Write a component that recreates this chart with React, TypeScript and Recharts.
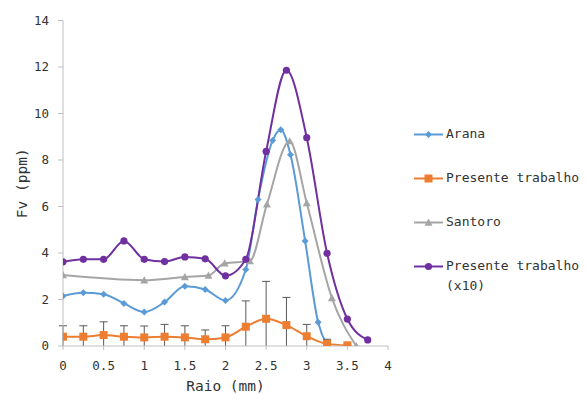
import React from 'react';
import { LineChart, Line, XAxis, YAxis, ErrorBar, Legend } from 'recharts';

// ---- data ----
const aranaX = [0, 0.25, 0.5, 0.75, 1, 1.25, 1.5, 1.75, 2, 2.25, 2.4, 2.58, 2.68, 2.8, 2.98, 3.14, 3.25];
const aranaY = [2.15, 2.29, 2.23, 1.83, 1.46, 1.89, 2.57, 2.43, 1.96, 3.29, 6.3, 8.84, 9.3, 8.23, 4.52, 1.02, 0.03];

const presenteX = [0, 0.25, 0.5, 0.75, 1, 1.25, 1.5, 1.75, 2, 2.25, 2.5, 2.75, 3, 3.25, 3.5];
const presenteY = [0.4, 0.4, 0.47, 0.4, 0.37, 0.4, 0.37, 0.29, 0.37, 0.83, 1.17, 0.9, 0.42, 0.09, 0.03];
const presenteErr = [0.47, 0.47, 0.57, 0.47, 0.49, 0.53, 0.5, 0.4, 0.5, 1.11, 1.61, 1.19, 0.51, 0.2, 0];

const santoroX = [0, 1, 1.5, 1.79, 1.99, 2.3, 2.51, 2.79, 3.0, 3.31, 3.61];
const santoroY = [3.05, 2.83, 2.97, 3.03, 3.56, 3.65, 6.1, 8.81, 6.15, 2.06, 0.0];

const presente10X = [0, 0.25, 0.5, 0.75, 1, 1.25, 1.5, 1.75, 2, 2.25, 2.5, 2.75, 3, 3.25, 3.5, 3.75];
const presente10Y = [3.62, 3.73, 3.73, 4.52, 3.73, 3.63, 3.83, 3.75, 3.02, 3.73, 8.37, 11.86, 8.96, 3.99, 1.16, 0.26];

const xTicks = [0, 0.5, 1, 1.5, 2, 2.5, 3, 3.5, 4];
const yTicks = [0, 2, 4, 6, 8, 10, 12, 14];

const seriesNames = ['Arana', 'Presente trabalho', 'Santoro', 'Presente trabalho (x10)'];
const seriesColors = ['#5B9BD5', '#ED7D31', '#A5A5A5', '#7030A0'];
const seriesShapes = ['diamond', 'square', 'triangle', 'circle'];

const aranaData = aranaX.map((x, i) => ({ x, y: aranaY[i] }));
// error bars: symmetric in the source, clipped at the axis -> lower part runs down to 0
const presenteData = presenteX.map((x, i) => ({
  x,
  y: presenteY[i],
  err: [Math.min(presenteY[i], presenteErr[i]), presenteErr[i]],
}));
const santoroData = santoroX.map((x, i) => ({ x, y: santoroY[i] }));
const presente10Data = presente10X.map((x, i) => ({ x, y: presente10Y[i] }));

const FONT = '"DejaVu Sans Mono", "Liberation Mono", monospace';
const AXIS = '#BFBFBF';
const TEXT = '#333333';

function Marker({ shape, cx, cy, color }: { shape: string; cx: number; cy: number; color: string }) {
  if (shape === 'diamond') {
    const r = 3.5;
    return <path d={`M${cx},${cy - r}L${cx + r},${cy}L${cx},${cy + r}L${cx - r},${cy}Z`} fill={color} />;
  }
  if (shape === 'square') {
    const r = 4;
    return <rect x={cx - r} y={cy - r} width={2 * r} height={2 * r} fill={color} />;
  }
  if (shape === 'triangle') {
    const r = 4;
    return <path d={`M${cx},${cy - r}L${cx + r},${cy + r * 0.8}L${cx - r},${cy + r * 0.8}Z`} fill={color} />;
  }
  return <circle cx={cx} cy={cy} r={3.6} fill={color} />;
}

const makeDot = (idx: number) => (props: any) => {
  const { cx, cy, index } = props;
  if (cx == null || cy == null) return <g key={`d-${idx}-${index}`} />;
  return (
    <g key={`d-${idx}-${index}`}>
      <Marker shape={seriesShapes[idx]} cx={cx} cy={cy} color={seriesColors[idx]} />
    </g>
  );
};

const legendTops = [124, 168, 212, 256];

const renderLegend = () => (
  <div style={{ position: 'relative', width: 587, height: 394, pointerEvents: 'none' }}>
    {seriesNames.map((name, i) => (
      <div key={name} style={{ position: 'absolute', left: 413, top: legendTops[i], width: 190 }}>
        <svg width={32} height={20} style={{ position: 'absolute', left: 0, top: 0 }}>
          <line x1={1} y1={10.5} x2={30} y2={10.5} stroke={seriesColors[i]} strokeWidth={2} />
          <Marker shape={seriesShapes[i]} cx={15.5} cy={10.5} color={seriesColors[i]} />
        </svg>
        <div
          style={{
            position: 'absolute',
            left: 33,
            top: 0,
            width: 141,
            fontFamily: FONT,
            fontSize: 13,
            lineHeight: '20px',
            color: TEXT,
            whiteSpace: 'normal',
          }}
        >
          {name}
        </div>
      </div>
    ))}
  </div>
);

const YTitle = (props: any) => {
  const vb = props.viewBox || { x: 0, y: 0, width: 0, height: 0 };
  const cx = vb.x + 21.5;
  const cy = vb.y + vb.height / 2;
  return (
    <text
      x={cx}
      y={cy}
      transform={`rotate(-90, ${cx}, ${cy})`}
      textAnchor="middle"
      dominantBaseline="central"
      fontFamily={FONT}
      fontSize={14.5}
      fill={TEXT}
    >
      Fv (ppm)
    </text>
  );
};

const XTitle = (props: any) => {
  const vb = props.viewBox || { x: 0, y: 0, width: 0, height: 0 };
  return (
    <text
      x={vb.x + vb.width / 2}
      y={vb.y + 44.5}
      textAnchor="middle"
      fontFamily={FONT}
      fontSize={14.5}
      fill={TEXT}
    >
      Raio (mm)
    </text>
  );
};

// the source shows no lower cap (it is cut off at the axis)
const css = `.recharts-errorBar line:nth-of-type(3){display:none}`;

export default function App() {
  return (
    <div style={{ position: 'absolute', left: 0, top: 0, width: 587, height: 394, background: '#fff' }}>
      <style>{css}</style>
      <LineChart width={587} height={394} margin={{ top: 20.5, right: 199, bottom: 0, left: 0 }}>
        <XAxis
          type="number"
          dataKey="x"
          domain={[0, 4]}
          ticks={xTicks}
          allowDataOverflow
          height={48}
          axisLine={{ stroke: AXIS }}
          tickLine={{ stroke: AXIS }}
          tickSize={4}
          tickMargin={11}
          tick={{ fontFamily: FONT, fontSize: 12.5, fill: TEXT }}
          label={<XTitle />}
          interval={0}
        />
        <YAxis
          type="number"
          domain={[0, 14]}
          ticks={yTicks}
          allowDataOverflow
          width={63}
          axisLine={{ stroke: AXIS }}
          tickLine={{ stroke: AXIS }}
          tickSize={5}
          tickMargin={9}
          tick={{ fontFamily: FONT, fontSize: 12.5, fill: TEXT }}
          label={<YTitle />}
          interval={0}
        />
        <Legend
          layout="vertical"
          align="center"
          verticalAlign="middle"
          content={renderLegend}
          wrapperStyle={{ position: 'absolute', left: 0, top: 0, width: 587, height: 394, pointerEvents: 'none' }}
        />
        <Line
          data={aranaData}
          dataKey="y"
          name={seriesNames[0]}
          type="monotone"
          stroke={seriesColors[0]}
          strokeWidth={2}
          dot={makeDot(0)}
          activeDot={false}
          isAnimationActive={false}
        />
        <Line
          data={presenteData}
          dataKey="y"
          name={seriesNames[1]}
          type="monotone"
          stroke={seriesColors[1]}
          strokeWidth={2}
          dot={makeDot(1)}
          activeDot={false}
          isAnimationActive={false}
        >
          <ErrorBar dataKey="err" direction="y" width={4} stroke="#595959" strokeWidth={1} />
        </Line>
        <Line
          data={santoroData}
          dataKey="y"
          name={seriesNames[2]}
          type="monotone"
          stroke={seriesColors[2]}
          strokeWidth={2}
          dot={makeDot(2)}
          activeDot={false}
          isAnimationActive={false}
        />
        <Line
          data={presente10Data}
          dataKey="y"
          name={seriesNames[3]}
          type="monotone"
          stroke={seriesColors[3]}
          strokeWidth={2}
          dot={makeDot(3)}
          activeDot={false}
          isAnimationActive={false}
        />
      </LineChart>
    </div>
  );
}
